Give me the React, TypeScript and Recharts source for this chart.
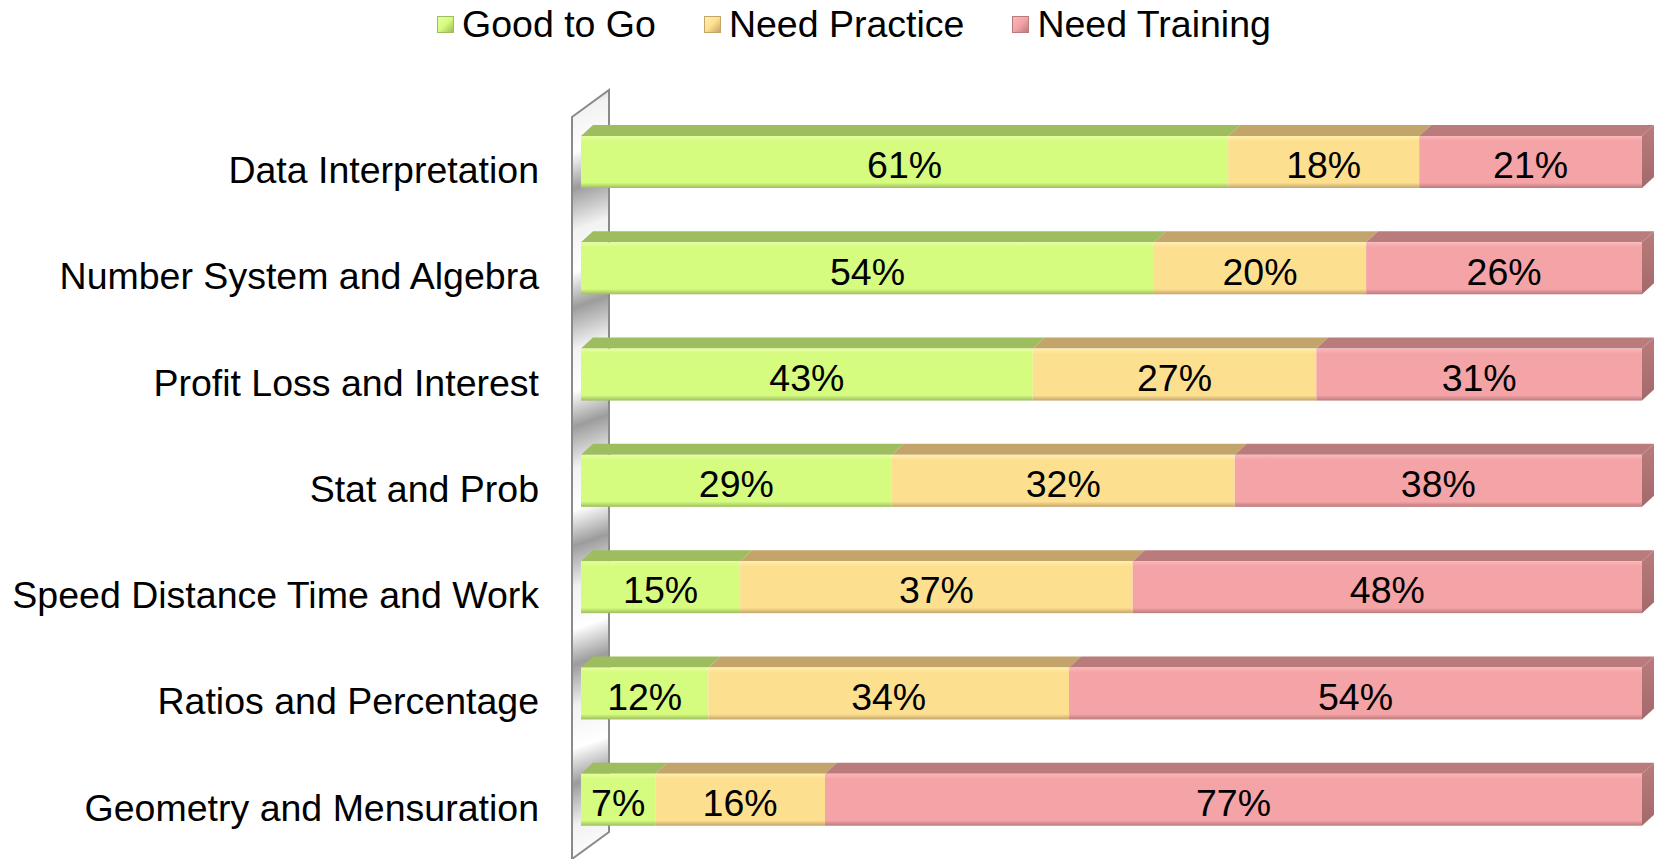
import { BarChart, Bar, XAxis, YAxis, Legend, LabelList, Customized } from 'recharts';

const topics = [
  'Data Interpretation',
  'Number System and Algebra',
  'Profit Loss and Interest',
  'Stat and Prob',
  'Speed Distance Time and Work',
  'Ratios and Percentage',
  'Geometry and Mensuration',
];
const goodToGo = [61, 54, 43, 29, 15, 12, 7];
const needPractice = [18, 20, 27, 32, 37, 34, 16];
const needTraining = [21, 26, 31, 38, 48, 54, 77];

const data = topics.map((name, i) => ({
  name,
  good: goodToGo[i],
  practice: needPractice[i],
  training: needTraining[i],
}));

type Style = { key: string; name: string; front: string; light: string; top: string; side: string };

const series: Style[] = [
  { key: 'good', name: 'Good to Go', front: '#d5fb7f', light: '#e6ffa0', top: '#9dbd5e', side: '#86a34c' },
  { key: 'practice', name: 'Need Practice', front: '#fddf90', light: '#fff0ac', top: '#c3a46b', side: '#a98c58' },
  { key: 'training', name: 'Need Training', front: '#f4a3a6', light: '#fbb7b9', top: '#ba7b7c', side: '#a26a6b' },
];

const W = 1665;
const H = 859;
const LEFT = 581;
const RIGHT_M = 23;
const TOP_M = 109;
const BOTTOM_M = 6;
const DX = 12;
const DY = 11;
const FONT = '"Liberation Sans", Arial, sans-serif';
const FS = 37.5;

function make3DShape(s: Style, withSide: boolean) {
  return (props: any) => {
    const { x, y, width, height } = props;
    if (width == null || width <= 0) return <g />;
    return (
      <g>
        <polygon
          points={`${x},${y} ${x + DX},${y - DY} ${x + width + DX},${y - DY} ${x + width},${y}`}
          fill={s.top}
        />
        {withSide && (
          <polygon
            points={`${x + width},${y} ${x + width + DX},${y - DY} ${x + width + DX},${y + height - DY} ${x + width},${y + height}`}
            fill={`url(#side-${s.key})`}
          />
        )}
        <rect x={x} y={y} width={width} height={height} fill={`url(#front-${s.key})`} />
      </g>
    );
  };
}

// side wall of the 3d plot
function Wall() {
  const band = (H - TOP_M - BOTTOM_M) / topics.length;
  return (
    <g>
      <defs>
        {series.map((s) => (
          <linearGradient key={s.key} id={`front-${s.key}`} x1="0" y1="0" x2="0" y2="1">
            <stop offset="0" stopColor={s.light} />
            <stop offset="0.1" stopColor={s.front} />
            <stop offset="0.9" stopColor={s.front} />
            <stop offset="1" stopColor={s.top} />
          </linearGradient>
        ))}
        {series.map((s) => (
          <linearGradient key={s.key} id={`side-${s.key}`} x1="0" y1="0" x2="0" y2="1">
            <stop offset="0" stopColor={s.top} />
            <stop offset="1" stopColor={s.side} />
          </linearGradient>
        ))}
        <linearGradient
          id="wallGrad"
          gradientUnits="userSpaceOnUse"
          x1={572}
          y1={TOP_M + 80}
          x2={609}
          y2={TOP_M + 80 + band}
          spreadMethod="repeat"
        >
          <stop offset="0" stopColor="#9c9c9c" />
          <stop offset="0.35" stopColor="#f2f2f2" />
          <stop offset="0.7" stopColor="#ffffff" />
          <stop offset="1" stopColor="#9c9c9c" />
        </linearGradient>
      </defs>
      <polygon
        points={`572,117 609,90 609,832 572,859`}
        fill="url(#wallGrad)"
        stroke="#8a8a8a"
        strokeWidth={2}
      />
    </g>
  );
}

function YTick(props: any) {
  const { y, payload } = props;
  return (
    <text x={539} y={y + 11} textAnchor="end" dominantBaseline="middle" fontSize={FS} fontFamily={FONT} fill="#000">
      {payload.value}
    </text>
  );
}

function LegendContent() {
  return (
    <div style={{ display: 'flex', alignItems: 'center', fontFamily: FONT, fontSize: FS, color: '#000' }}>
      {series.map((s, i) => (
        <div key={s.key} style={{ display: 'flex', alignItems: 'center', marginRight: i < 2 ? 48 : 0 }}>
          <span
            style={{
              display: 'inline-block',
              width: 15,
              height: 15,
              background: `linear-gradient(135deg, ${s.light}, ${s.front} 50%, ${s.top})`,
              border: `1px solid ${s.top}`,
              marginRight: 8,
            }}
          />
          <span style={{ lineHeight: '40px' }}>{s.name}</span>
        </div>
      ))}
    </div>
  );
}

export default function App() {
  return (
    <div style={{ position: 'absolute', left: 0, top: 0, width: W, height: H, background: '#fff' }}>
      <BarChart
        width={W}
        height={H}
        data={data}
        layout="vertical"
        stackOffset="expand"
        barSize={52}
        margin={{ top: TOP_M, right: RIGHT_M, bottom: BOTTOM_M, left: 0 }}
      >
        <Customized component={Wall} />
        <XAxis type="number" hide domain={[0, 1]} />
        <YAxis
          type="category"
          dataKey="name"
          width={LEFT}
          axisLine={false}
          tickLine={false}
          tick={<YTick />}
          interval={0}
        />
        <Legend
          layout="horizontal"
          verticalAlign="middle"
          align="center"
          content={<LegendContent />}
          wrapperStyle={{ top: 4, left: 437, width: 'auto' }}
        />
        {series.map((s, i) => (
          <Bar
            key={s.key}
            dataKey={s.key}
            name={s.name}
            stackId="a"
            fill={s.front}
            isAnimationActive={false}
            shape={make3DShape(s, i === series.length - 1)}
          >
            <LabelList
              dataKey={s.key}
              position="center"
              formatter={(v: any) => `${v}%`}
              fill="#000"
              fontSize={FS}
              fontFamily={FONT}
              dy={3}
            />
          </Bar>
        ))}
      </BarChart>
    </div>
  );
}
